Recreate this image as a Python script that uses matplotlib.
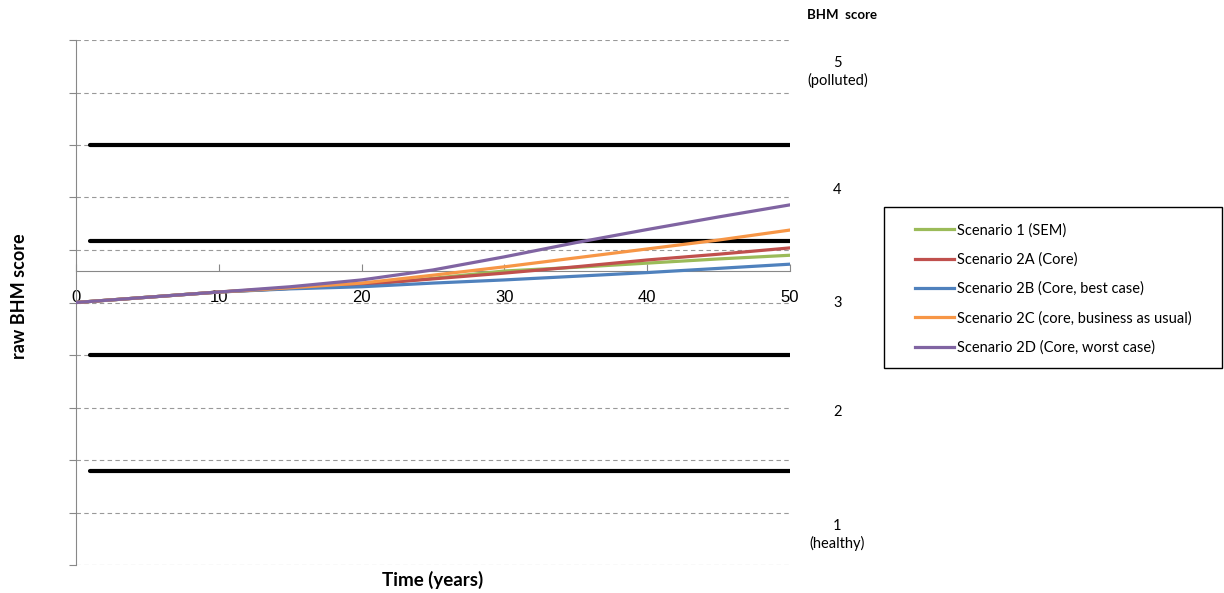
import numpy as np
import matplotlib.pyplot as plt
from matplotlib.patches import Rectangle

plt.rcParams['font.family'] = ['Lato', 'DejaVu Sans']

# data
years = [0, 5, 10, 15, 20, 25, 30, 35, 40, 45, 50]
s1 = [0.5, 0.51, 0.52, 0.527, 0.534, 0.546, 0.560, 0.567, 0.575, 0.583, 0.590]
s2a = [0.5, 0.51, 0.52, 0.527, 0.534, 0.545, 0.556, 0.568, 0.581, 0.592, 0.604]
s2b = [0.5, 0.51, 0.52, 0.526, 0.530, 0.537, 0.543, 0.550, 0.557, 0.565, 0.573]
s2c = [0.5, 0.51, 0.52, 0.528, 0.537, 0.552, 0.568, 0.585, 0.602, 0.619, 0.638]
s2d = [0.5, 0.51, 0.52, 0.530, 0.543, 0.562, 0.587, 0.614, 0.639, 0.663, 0.686]
labels = ['Scenario 1 (SEM)', 'Scenario 2A (Core)', 'Scenario 2B (Core, best case)',
          'Scenario 2C (core, business as usual)', 'Scenario 2D (Core, worst case)']
colors = ['#9BBB59', '#C0504D', '#4F81BD', '#F79646', '#8064A2']

# class boundaries (black lines)
bounds = [0.8, 0.617, 0.4, 0.18]
bound_x = [1, 50]

# right-hand BHM score labels
score_text = ['5\n(polluted)', '4', '3', '2', '1\n(healthy)']
score_pos = [0.939, 0.714, 0.499, 0.291, 0.057]

fig = plt.figure(figsize=(12.24, 5.93), dpi=100)
ax = fig.add_axes([76/1224, 1-565/593, 714/1224, 525/593])

ax.set_xlim(0, 50)
ax.set_ylim(0, 1)
ax.set_yticks(np.arange(0, 1.01, 0.1))
ax.set_yticklabels([])
ax.grid(axis='y', linestyle=(0, (4, 3)), color='#999999', lw=0.8)
ax.set_axisbelow(True)

for b in bounds:
    ax.plot(bound_x, [b, b], color='black', lw=3, solid_capstyle='round', zorder=3)

for ys, lab, c in zip([s1, s2a, s2b, s2c, s2d], labels, colors):
    ax.plot(years, ys, color=c, lw=2.3, label=lab, zorder=4)

ax.spines['top'].set_visible(False)
ax.spines['right'].set_visible(False)
ax.spines['left'].set_color('#888888')
ax.spines['bottom'].set_color('#888888')
ax.spines['bottom'].set_position(('data', 0.5606))
ax.set_xticks([0, 10, 20, 30, 40, 50])
ax.tick_params(axis='x', direction='in', length=5, color='#888888', pad=14,
               labelsize=12, labelfontfamily='Liberation Sans')
ax.tick_params(axis='y', direction='out', length=5, color='#888888')

fig.text(20/1224, 1-296/593, 'raw BHM score', rotation=90, fontweight='bold',
         fontsize=13, ha='center', va='center')
fig.text(433/1224, 1-580/593, 'Time (years)', fontweight='bold',
         fontsize=13.5, ha='center', va='center')
fig.text(842/1224, 1-15/593, 'BHM  score', fontweight='bold',
         fontsize=9.5, ha='center', va='center')
for t, p in zip(score_text, score_pos):
    ax.text(1.0665, p, t, transform=ax.transAxes, ha='center', va='center',
            fontsize=10.5, linespacing=1.3)

# legend box drawn separately so its size matches
fig.patches.append(Rectangle((884/1224, 1-368/593), 338/1224, 161/593,
                             transform=fig.transFigure, fill=False,
                             edgecolor='black', lw=1))
leg = fig.legend(loc='upper left', bbox_to_anchor=(915/1224, 1-223/593),
                 fontsize=10.5, frameon=False, handlelength=2.7,
                 handletextpad=0.15, labelspacing=1.03, borderpad=0,
                 borderaxespad=0)

fig.savefig('out.png', dpi=100)
